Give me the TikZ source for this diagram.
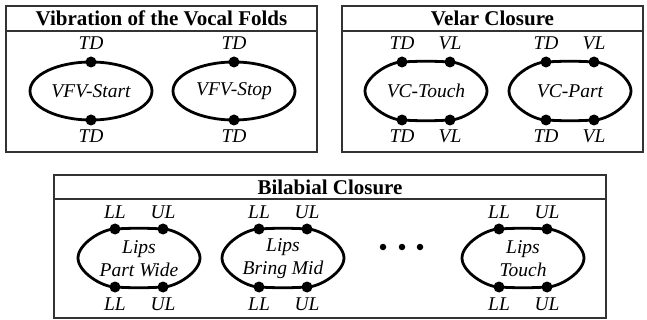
\documentclass[tikz,border=0pt]{standalone}
\usepackage{fontspec}
\setmainfont{Liberation Serif}
\newcommand\flatoval[2]{%
  \begin{scope}[shift={(#1,#2)}]
    \draw[blob] (-61,0) .. controls (-61,-14) and (-37,-29) .. (-24,-29)
      .. controls (-8,-30) and (8,-30) .. (24,-29)
      .. controls (37,-29) and (61,-14) .. (61,0)
      .. controls (61,14) and (37,29) .. (24,29)
      .. controls (8,30) and (-8,30) .. (-24,29)
      .. controls (-37,29) and (-61,14) .. cycle;
  \end{scope}}
\begin{document}
\begin{tikzpicture}[x=1pt,y=-1pt,
  frame/.style={draw=black!80, line width=1.3pt},
  blob/.style={draw=black, line width=2.8pt},
  joint/.style={circle, fill=black, inner sep=0pt, minimum size=11pt},
  boxtitle/.style={font=\bfseries\fontsize{21}{23}\selectfont, inner sep=0pt},
  lab/.style={font=\itshape\fontsize{19.5}{23}\selectfont, inner sep=0pt, align=center},
  bigdot/.style={circle, fill=black, inner sep=0pt, minimum size=6.5pt}]
\useasboundingbox (0,0) rectangle (647,320);
% frames
\draw[frame] (6,6) rectangle (317,152);
\draw[frame] (6,31) -- (317,31);
\draw[frame] (342,6) rectangle (643,152);
\draw[frame] (342,31) -- (643,31);
\draw[frame] (54,175) rectangle (606,318);
\draw[frame] (54,199) -- (606,199);
% titles
\node[boxtitle] (t1) at (161.5,18.5) {Vibration of the Vocal Folds};
\node[boxtitle] (t2) at (492.5,18.5) {Velar Closure};
\node[boxtitle] (t3) at (330,187) {Bilabial Closure};
% vocal folds
\draw[blob] (91,91) ellipse [x radius=61, y radius=29];
\draw[blob] (234,91) ellipse [x radius=61, y radius=29];
\node[lab] (vfvstart) at (91,91) {VFV-Start};
\node[lab] (vfvstop) at (234,91) {VFV-Stop};
\node[joint] (a1) at (91,62) {};
\node[joint] (a2) at (91,120) {};
\node[joint] (b1) at (234,62) {};
\node[joint] (b2) at (234,120) {};
\node[lab] (la1) at (91,43) {TD};
\node[lab] (la2) at (91,136) {TD};
\node[lab] (lb1) at (234,43) {TD};
\node[lab] (lb2) at (234,136) {TD};
% velar
\flatoval{426}{91}
\flatoval{570}{91}
\node[lab] (vctouch) at (426,91) {VC-Touch};
\node[lab] (vcpart) at (570,91) {VC-Part};
\foreach \cx/\nm in {426/c, 570/d}{
  \node[joint] (\nm1) at (\cx-24,62) {};
  \node[joint] (\nm2) at (\cx+24,62) {};
  \node[joint] (\nm3) at (\cx-24,120) {};
  \node[joint] (\nm4) at (\cx+24,120) {};
  \node[lab] (l\nm1) at (\cx-24,43) {TD};
  \node[lab] (l\nm2) at (\cx+24,43) {VL};
  \node[lab] (l\nm3) at (\cx-24,136) {TD};
  \node[lab] (l\nm4) at (\cx+24,136) {VL};
}
% bilabial
\flatoval{139}{258}
\flatoval{283}{258}
\flatoval{523}{258}
\node[lab] (lpw) at (139,259) {Lips\\Part Wide};
\node[lab] (lbm) at (283,259) {Lips\\Bring Mid};
\node[lab] (lt) at (523,259) {Lips\\Touch};
\foreach \cx/\nm in {139/e, 283/f, 523/g}{
  \node[joint] (\nm1) at (\cx-24,229) {};
  \node[joint] (\nm2) at (\cx+24,229) {};
  \node[joint] (\nm3) at (\cx-24,287) {};
  \node[joint] (\nm4) at (\cx+24,287) {};
  \node[lab] (l\nm1) at (\cx-24,212) {LL};
  \node[lab] (l\nm2) at (\cx+24,212) {UL};
  \node[lab] (l\nm3) at (\cx-24,304) {LL};
  \node[lab] (l\nm4) at (\cx+24,304) {UL};
}
\node[bigdot] (dd1) at (383,247) {};
\node[bigdot] (dd2) at (402,247) {};
\node[bigdot] (dd3) at (420,247) {};
\end{tikzpicture}
\end{document}
